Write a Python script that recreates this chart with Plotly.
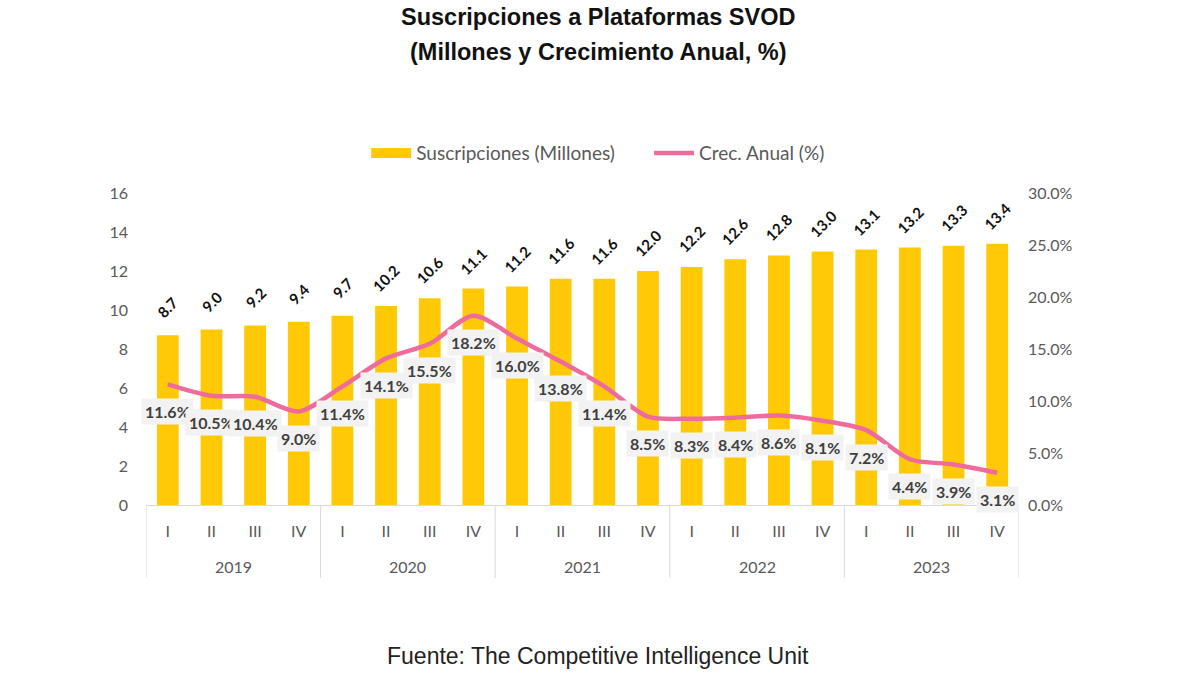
import plotly.graph_objects as go

years = ["2019"] * 4 + ["2020"] * 4 + ["2021"] * 4 + ["2022"] * 4 + ["2023"] * 4
quarters = ["I", "II", "III", "IV"] * 5
subs = [8.7, 9.0, 9.2, 9.4, 9.7, 10.2, 10.6, 11.1, 11.2, 11.6, 11.6, 12.0,
        12.2, 12.6, 12.8, 13.0, 13.1, 13.2, 13.3, 13.4]
growth = [11.6, 10.5, 10.4, 9.0, 11.4, 14.1, 15.5, 18.2, 16.0, 13.8, 11.4, 8.5,
          8.3, 8.4, 8.6, 8.1, 7.2, 4.4, 3.9, 3.1]

BAR = "#FFC907"
PINK = "#EF6B9C"
TICK = "#595959"
GRID = "#D9D9D9"
FONT = "Lato"
CX = 0.518  # page centre in plot-area fraction

cats = [f"{y} {q}" for y, q in zip(years, quarters)]

fig = go.Figure()
fig.add_trace(go.Bar(
    x=cats, y=subs, name="Suscripciones (Millones)",
    marker=dict(color=BAR, line=dict(width=0)), showlegend=False,
))
fig.add_trace(go.Scatter(
    x=cats, y=[g / 100 for g in growth], name="Crec. Anual (%)",
    mode="lines", line=dict(color=PINK, width=4.5, shape="spline", smoothing=0.8),
    yaxis="y2", showlegend=False,
))
# legend entries (swatches styled like the original)
fig.add_trace(go.Scatter(x=[None], y=[None], mode="lines",
                         name="Suscripciones (Millones)" + "\u00a0" * 6,
                         line=dict(color=BAR, width=12)))
fig.add_trace(go.Scatter(x=[None], y=[None], mode="lines", name="Crec. Anual (%)",
                         line=dict(color=PINK, width=4.5)))

# bar value labels (rotated)
for c, v in zip(cats, subs):
    fig.add_annotation(
        x=c, y=v, xref="x", yref="y", text=f"{v:.1f}", textangle=-45,
        showarrow=False, yshift=28, xanchor="center", yanchor="middle",
        font=dict(family=FONT, size=15, color="#111111", weight="bold"),
    )

# growth labels
for c, g in zip(cats, growth):
    fig.add_annotation(
        x=c, y=g / 100, xref="x", yref="y2", text=f"{g:.1f}%",
        showarrow=False, yshift=-27, bgcolor="#F2F2F2", borderpad=3,
        font=dict(family=FONT, size=16, color="#404040", weight="bold"),
    )

# year group labels and dividers
groups = []
for i, y in enumerate(years):
    if not groups or groups[-1][0] != y:
        groups.append([y, i, i])
    else:
        groups[-1][2] = i
for y, s, e in groups:
    fig.add_annotation(x=(s + e) / 2, y=-0.196, xref="x", yref="paper", text=y,
                       showarrow=False, yanchor="middle",
                       font=dict(family=FONT, size=16, color=TICK))
    fig.add_shape(type="line", xref="x", yref="paper", x0=s - 0.5, x1=s - 0.5,
                  y0=0, y1=-0.234, line=dict(color=GRID, width=1))
fig.add_shape(type="line", xref="x", yref="paper", x0=groups[-1][2] + 0.5,
              x1=groups[-1][2] + 0.5, y0=0, y1=-0.234, line=dict(color=GRID, width=1))

fig.add_annotation(x=CX, y=1.564, xref="paper", yref="paper", yanchor="middle",
                   text="<b>Suscripciones a Plataformas SVOD</b>", showarrow=False,
                   font=dict(family="Liberation Sans", size=23.5, color="#111111"))
fig.add_annotation(x=CX, y=1.452, xref="paper", yref="paper", yanchor="middle",
                   text="<b>(Millones y Crecimiento Anual, %)</b>", showarrow=False,
                   font=dict(family="Liberation Sans", size=23.5, color="#111111"))
fig.add_annotation(x=CX, y=-0.484, xref="paper", yref="paper", yanchor="middle",
                   text="Fuente: The Competitive Intelligence Unit", showarrow=False,
                   font=dict(family="Liberation Sans", size=23, color="#222222"))

fig.update_layout(
    width=1200, height=675,
    margin=dict(l=146, r=181, t=193, b=170),
    paper_bgcolor="white", plot_bgcolor="white",
    bargap=0.5,
    showlegend=True,
    legend=dict(orientation="h", x=CX, xanchor="center", y=1.128, yanchor="middle",
                font=dict(family=FONT, size=19, color=TICK), itemwidth=40,
                traceorder="normal"),
    xaxis=dict(type="category", tickvals=cats, ticktext=quarters, showgrid=False,
               range=[-0.5, len(cats) - 0.5],
               showline=True, linecolor=GRID, linewidth=1, ticks="", automargin=False,
               tickfont=dict(family=FONT, size=16, color=TICK), ticklabelstandoff=12),
    yaxis=dict(range=[0, 16], dtick=2, showgrid=False, zeroline=False, showline=False,
               ticks="", tickfont=dict(family=FONT, size=16, color=TICK),
               ticklabelstandoff=17, automargin=False),
    yaxis2=dict(range=[0, 0.30], dtick=0.05, tickformat=".1%", overlaying="y",
                side="right", showgrid=False, zeroline=False, showline=False, ticks="",
                tickfont=dict(family=FONT, size=16, color=TICK), ticklabelstandoff=8,
                automargin=False),
)

fig.write_html("out.html")
